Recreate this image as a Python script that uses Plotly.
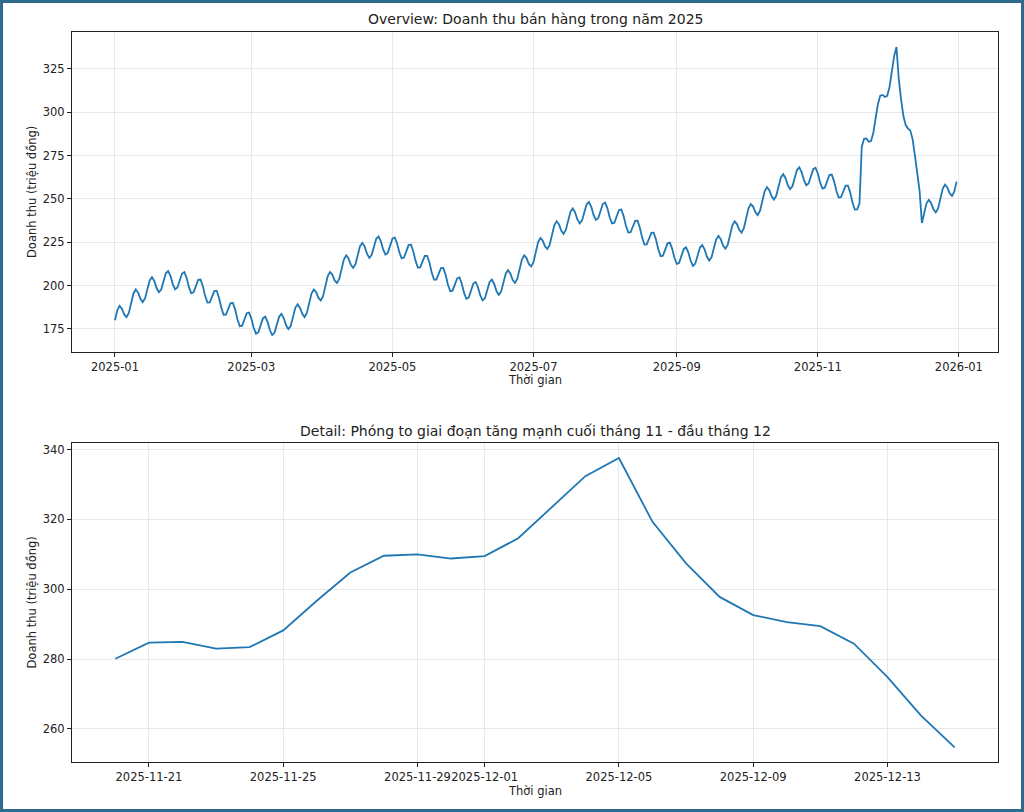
import pandas as pd
import plotly.graph_objs as go

# doanh thu theo ngay (trieu dong), doc tu bieu do goc
jan = [180.0, 185.8, 188.3, 186.7, 183.4, 181.8, 184.2, 189.9, 195.5, 197.8, 196.0,
       192.4, 190.5, 192.6, 197.9, 203.0, 204.9, 202.7, 198.6, 196.2, 197.7, 202.5,
       207.1, 208.4, 205.6, 200.9, 197.9, 198.9, 203.0, 207.0, 207.8]
feb = [204.4, 199.1, 195.6, 196.1, 199.7, 203.3, 203.5, 199.7, 194.1, 190.2, 190.3,
       193.6, 197.0, 197.0, 193.0, 187.2, 183.2, 183.3, 186.6, 189.9, 190.0, 186.1,
       180.5, 176.6, 176.9, 180.5, 184.1, 184.5]
mar = [181.0, 175.7, 172.3, 173.0, 177.0, 181.1, 182.1, 179.1, 174.4, 171.5, 172.8,
       177.4, 182.1, 183.7, 181.3, 177.1, 174.9, 176.7, 181.9, 187.2, 189.2, 187.3,
       183.7, 181.9, 184.2, 189.8, 195.4, 197.8, 196.3, 192.9, 191.4]
apr = [193.9, 199.6, 205.4, 207.9, 206.4, 203.0, 201.5, 203.9, 209.5, 215.1, 217.5,
       215.7, 212.1, 210.2, 212.3, 217.6, 222.8, 224.7, 222.5, 218.4, 216.0, 217.6,
       222.3, 227.0, 228.3, 225.5, 220.9, 217.9, 218.9, 223.0]
may = [227.1, 227.8, 224.5, 219.2, 215.7, 216.2, 219.8, 223.4, 223.7, 219.9, 214.3,
       210.4, 210.5, 213.9, 217.2, 217.2, 213.3, 207.5, 203.5, 203.5, 206.8, 210.1,
       210.2, 206.3, 200.7, 196.8, 197.1, 200.6, 204.2, 204.7, 201.1]
jun = [195.8, 192.4, 193.1, 197.1, 201.2, 202.1, 199.1, 194.3, 191.5, 192.7, 197.3,
       202.0, 203.5, 201.1, 196.9, 194.7, 196.5, 201.7, 206.9, 208.9, 207.0, 203.4,
       201.6, 203.9, 209.4, 215.1, 217.5, 215.9, 212.5, 211.0]
jul = [213.5, 219.2, 225.0, 227.5, 226.0, 222.6, 221.1, 223.5, 229.2, 234.8, 237.1,
       235.4, 231.8, 229.9, 232.1, 237.3, 242.6, 244.5, 242.3, 238.2, 235.9, 237.5,
       242.2, 246.9, 248.2, 245.5, 240.8, 237.9, 238.9, 243.0, 247.1]
aug = [247.9, 244.6, 239.3, 235.9, 236.3, 240.0, 243.6, 243.9, 240.1, 234.5, 230.6,
       230.8, 234.1, 237.4, 237.5, 233.5, 227.7, 223.7, 223.8, 227.0, 230.4, 230.5,
       226.6, 220.9, 217.0, 217.3, 220.8, 224.4, 224.8, 221.2, 215.9]
sep = [212.5, 213.2, 217.1, 221.2, 222.1, 219.1, 214.3, 211.4, 212.7, 217.2, 221.9,
       223.4, 220.9, 216.8, 214.5, 216.3, 221.4, 226.6, 228.7, 226.8, 223.1, 221.3,
       223.5, 229.1, 234.7, 237.1, 235.5, 232.2, 230.6, 233.1]
oct = [238.9, 244.6, 247.1, 245.6, 242.3, 240.7, 243.2, 248.8, 254.4, 256.8, 255.1,
       251.5, 249.6, 251.8, 257.1, 262.3, 264.3, 262.1, 258.0, 255.7, 257.3, 262.1,
       266.8, 268.2, 265.4, 260.8, 257.9, 258.9, 263.1, 267.2, 268.0]
nov = [264.7, 259.5, 256.0, 256.5, 260.2, 263.8, 264.1, 260.3, 254.7, 250.8, 251.0,
       254.3, 257.7, 257.7, 253.7, 247.9, 243.9, 244.0, 247.3, 280.1, 284.7, 284.9,
       283.0, 283.4, 288.2, 296.7, 304.8, 309.6, 310.0, 308.8]
dec = [309.5, 314.6, 323.6, 332.4, 337.6, 319.3, 307.4, 297.8, 292.6, 290.6, 289.4,
       284.4, 274.8, 263.8, 254.7, 236.1, 242.2, 247.5, 249.5, 247.6, 244.0, 242.2,
       244.5, 250.1, 255.8, 258.3, 256.7, 253.3, 251.7, 254.2, 260.0]

overview_ticks = ["2025-01-01", "2025-03-01", "2025-05-01", "2025-07-01",
                  "2025-09-01", "2025-11-01", "2026-01-01"]
detail_ticks = ["2025-11-21", "2025-11-25", "2025-11-29", "2025-12-01",
                "2025-12-05", "2025-12-09", "2025-12-13"]
detail_start = "2025-11-20"
detail_end = "2025-12-15"

revenue = jan + feb + mar + apr + may + jun + jul + aug + sep + oct + nov + dec
df = pd.DataFrame({
    'date': pd.date_range("2025-01-01", "2025-12-31", freq="D"),
    'revenue': revenue,
})
detail = df[(df['date'] >= detail_start) & (df['date'] <= detail_end)]

LINE = '#1f77b4'
FONT = 'DejaVu Sans'

fig = go.Figure()
fig.add_trace(go.Scatter(x=df['date'], y=df['revenue'], mode='lines',
                         line=dict(color=LINE, width=1.8), xaxis='x', yaxis='y',
                         showlegend=False))
fig.add_trace(go.Scatter(x=detail['date'], y=detail['revenue'], mode='lines',
                         line=dict(color=LINE, width=1.8), xaxis='x2', yaxis='y2',
                         showlegend=False))

axis_style = dict(showline=True, mirror=True, linecolor='#222', linewidth=1,
                  ticks='outside', ticklen=4, tickcolor='#222', tickwidth=1,
                  showgrid=True, gridcolor='#e8e8e8', gridwidth=1, zeroline=False,
                  tickfont=dict(family=FONT, size=11.5, color='#222'))

fig.update_layout(
    width=1024, height=812,
    margin=dict(l=72, r=26, t=32, b=50),
    paper_bgcolor='white', plot_bgcolor='white',
    font=dict(family=FONT, size=11.5, color='#222'),
    xaxis=dict(domain=[0, 1], anchor='y', type='date',
               range=['2024-12-13 10:00', '2026-01-17 22:00'],
               tickvals=overview_ticks, tickformat='%Y-%m', tickangle=0, **axis_style),
    yaxis=dict(domain=[0.5616, 1], anchor='x', range=[161.7, 346.3],
               tickvals=[175, 200, 225, 250, 275, 300, 325], **axis_style),
    xaxis2=dict(domain=[0, 1], anchor='y2', type='date',
                range=['2025-11-18 17:00', '2025-12-16 07:00'],
                tickvals=detail_ticks, tickformat='%Y-%m-%d', tickangle=0, **axis_style),
    yaxis2=dict(domain=[0, 0.437], anchor='x2', range=[250.5, 341.9],
                tickvals=[260, 280, 300, 320, 340], **axis_style),
)

notes = [
    ("Overview: Doanh thu bán hàng trong năm 2025", 0.5, 1.0178, 0, 14),
    ("Detail: Phóng to giai đoạn tăng mạnh cuối tháng 11 - đầu tháng 12", 0.5, 0.4534, 0, 14),
    ("Thời gian", 0.5, 0.5233, 0, 11.5),
    ("Thời gian", 0.5, -0.0397, 0, 11.5),
    ("Doanh thu (triệu đồng)", -0.0432, 0.7808, -90, 11.5),
    ("Doanh thu (triệu đồng)", -0.0432, 0.2185, -90, 11.5),
]
for text, x, y, angle, size in notes:
    fig.add_annotation(text=text, x=x, y=y, xref='paper', yref='paper',
                       xanchor='center', yanchor='middle', showarrow=False,
                       textangle=angle, font=dict(family=FONT, size=size, color='#222'))

# vien khung quanh hinh
fig.add_shape(type='rect', xref='paper', yref='paper',
              x0=-0.0761, x1=1.0265, y0=-0.0664, y1=1.0418,
              line=dict(color='#2d6b8d', width=3), fillcolor='rgba(0,0,0,0)')

fig.write_html("out.html", config={'displayModeBar': False},
               post_script="document.body.style.margin='0';")
